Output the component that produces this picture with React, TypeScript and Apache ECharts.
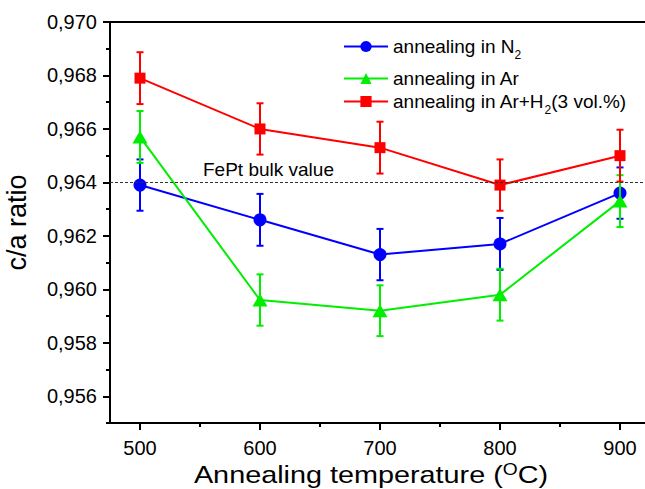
import React, { useEffect, useRef } from "react";
import * as echarts from "echarts";

// Annealing temperatures (°C)
const temperatures = [500, 600, 700, 800, 900];

// c/a ratio per annealing atmosphere
const ratioN2 = [0.9639, 0.9626, 0.9613, 0.9617, 0.9636];
const ratioAr = [0.9657, 0.9596, 0.9592, 0.9598, 0.9633];
const ratioArH2 = [0.9679, 0.966, 0.9653, 0.9639, 0.965];

// Symmetric error (±) for each point
const errN2 = [0.00096, 0.00097, 0.00096, 0.00097, 0.00096];
const errAr = [0.00097, 0.00096, 0.00095, 0.00097, 0.00097];
const errArH2 = [0.00097, 0.00096, 0.00097, 0.00096, 0.00097];

const bulkValue = 0.964;

const xMajorTicks = [500, 600, 700, 800, 900];
const xMinorTicks = [550, 650, 750, 850];
const yMajorTicks = [0.956, 0.958, 0.96, 0.962, 0.964, 0.966, 0.968, 0.97];
const yMinorTicks = [0.955, 0.957, 0.959, 0.961, 0.963, 0.965, 0.967, 0.969];

const seriesNames = [
  "annealing in N2",
  "annealing in Ar",
  "annealing in Ar+H2(3 vol.%)",
];

const FONT = "'Liberation Sans', Arial, sans-serif";
const BLUE = "#0000ff";
const GREEN = "#00ee00";
const RED = "#ff0000";

function errorSeries(values: number[], errs: number[], color: string) {
  const data = temperatures.map((t, i) => [t, values[i] - errs[i], values[i] + errs[i]]);
  return {
    type: "custom",
    silent: true,
    z: 3,
    data,
    renderItem: (_params: any, api: any) => {
      const x = api.value(0);
      const lo = api.coord([x, api.value(1)]);
      const hi = api.coord([x, api.value(2)]);
      const half = 3.5;
      const style = { stroke: color, lineWidth: 2 };
      return {
        type: "group",
        children: [
          { type: "line", shape: { x1: lo[0], y1: lo[1], x2: hi[0], y2: hi[1] }, style },
          { type: "line", shape: { x1: lo[0] - half, y1: lo[1], x2: lo[0] + half, y2: lo[1] }, style },
          { type: "line", shape: { x1: hi[0] - half, y1: hi[1], x2: hi[0] + half, y2: hi[1] }, style },
        ],
      };
    },
  };
}

function lineSeries(name: string, values: number[], color: string, symbol: string, size: any) {
  return {
    type: "line",
    name,
    data: temperatures.map((t, i) => [t, values[i]]),
    symbol,
    symbolSize: size,
    z: 2,
    lineStyle: { color, width: 2 },
    itemStyle: { color },
  };
}

const richLegend = {
  t: { fontSize: 19, fontFamily: FONT, color: "#000" },
  sub: { fontSize: 12, fontFamily: FONT, color: "#000", padding: [17, 0, 0, 0] },
};

function legendFormatter(name: string) {
  const parts = name.split(/(?<=[NH])2/);
  return parts.map((p, i) => `{t|${p}}` + (i < parts.length - 1 ? "{sub|2}" : "")).join("");
}

function makeLegend(name: string, top: number) {
  return {
    data: [name],
    left: 343,
    top,
    padding: 0,
    itemWidth: 44,
    itemHeight: 14,
    itemGap: 5,
    selectedMode: false,
    formatter: legendFormatter,
    textStyle: { fontSize: 19, fontFamily: FONT, color: "#000", rich: richLegend },
  };
}

export default function App() {
  const ref = useRef<HTMLDivElement>(null);

  useEffect(() => {
    if (!ref.current) return;
    const chart = echarts.init(ref.current, null, { renderer: "svg" });
    const fmtY = (v: number) => v.toFixed(3).replace(".", ",");

    chart.setOption({
      animation: false,
      backgroundColor: "#fff",
      textStyle: { fontFamily: FONT },
      grid: {
        left: 110,
        top: 22,
        right: -5,
        bottom: 66,
        outerBoundsMode: "none",
        containLabel: false,
        show: true,
        borderColor: "#000",
        borderWidth: 2,
      },
      legend: [
        makeLegend(seriesNames[0], 37),
        makeLegend(seriesNames[1], 69),
        makeLegend(seriesNames[2], 92),
      ],
      // x-axis title, slightly widened
      graphic: [
        {
          type: "text",
          x: 371,
          y: 475,
          scaleX: 1.2,
          silent: true,
          style: {
            text: "Annealing temperature ({sup|O}C)",
            fontSize: 24,
            fontFamily: FONT,
            fill: "#000",
            align: "center",
            verticalAlign: "middle",
            rich: {
              sup: { fontSize: 16, fontFamily: FONT, fill: "#000", padding: [0, 0, 10, 0] },
            },
          },
        },
      ],
      xAxis: [
        {
          type: "value",
          min: 475,
          max: 925,
          axisLine: { show: true, lineStyle: { color: "#000", width: 2 } },
          axisTick: { show: true, customValues: xMajorTicks, length: 7, lineStyle: { color: "#000", width: 2 } },
          axisLabel: { customValues: xMajorTicks, fontSize: 20, color: "#000", margin: 15, fontFamily: FONT },
          splitLine: { show: false },
        },
        {
          type: "value",
          min: 475,
          max: 925,
          position: "bottom",
          axisLine: { show: false },
          axisTick: { show: true, customValues: xMinorTicks, length: 4, lineStyle: { color: "#000", width: 2 } },
          axisLabel: { show: false },
          splitLine: { show: false },
        },
      ],
      yAxis: [
        {
          type: "value",
          min: 0.955,
          max: 0.97,
          name: "c/a ratio",
          nameLocation: "middle",
          nameGap: 80,
          nameTextStyle: { fontSize: 27, fontFamily: FONT, color: "#000" },
          axisLine: { show: true, lineStyle: { color: "#000", width: 2 } },
          axisTick: { show: true, customValues: yMajorTicks, length: 7, lineStyle: { color: "#000", width: 2 } },
          axisLabel: { customValues: yMajorTicks, formatter: fmtY, fontSize: 20, color: "#000", margin: 13, fontFamily: FONT },
          splitLine: { show: false },
        },
        {
          type: "value",
          min: 0.955,
          max: 0.97,
          position: "left",
          axisLine: { show: false },
          axisTick: { show: true, customValues: yMinorTicks, length: 4, lineStyle: { color: "#000", width: 2 } },
          axisLabel: { show: false },
          splitLine: { show: false },
        },
      ],
      series: [
        {
          ...lineSeries(seriesNames[0], ratioN2, BLUE, "circle", 13),
          markLine: {
            silent: true,
            symbol: "none",
            precision: 4,
            lineStyle: { color: "#333", width: 1, type: [3, 2] },
            label: {
              show: true,
              position: "insideStartTop",
              formatter: "FePt bulk value",
              fontSize: 19,
              fontFamily: FONT,
              color: "#000",
              padding: [0, 0, 0, 90],
              distance: 3,
            },
            data: [{ yAxis: bulkValue }],
          },
        },
        lineSeries(seriesNames[1], ratioAr, GREEN, "triangle", [15, 13]),
        lineSeries(seriesNames[2], ratioArH2, RED, "rect", 11),
        errorSeries(ratioN2, errN2, BLUE),
        errorSeries(ratioAr, errAr, GREEN),
        errorSeries(ratioArH2, errArH2, RED),
      ],
    });

    return () => chart.dispose();
  }, []);

  return (
    <div
      ref={ref}
      style={{ position: "fixed", left: 0, top: 0, width: 645, height: 489 }}
    />
  );
}
